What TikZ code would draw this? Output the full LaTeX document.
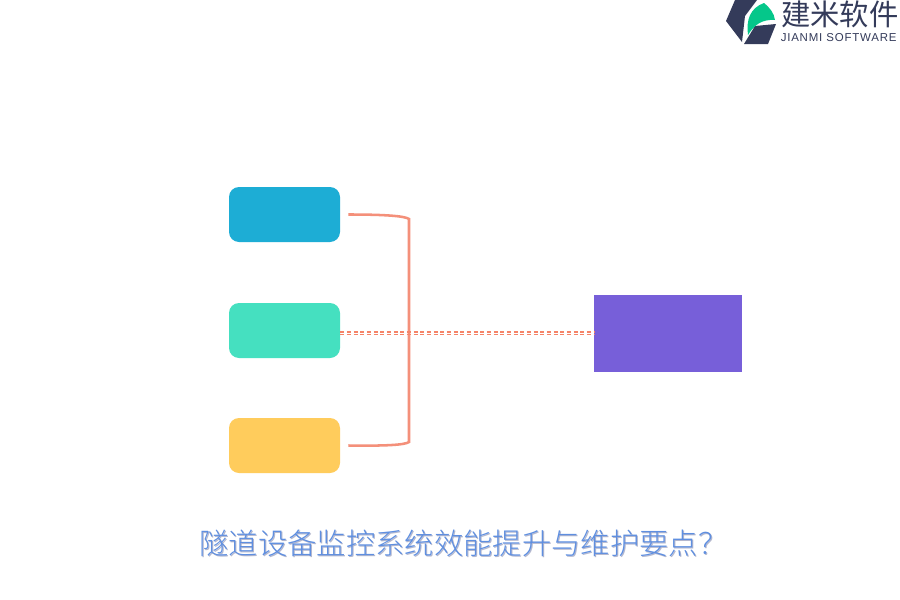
\documentclass[tikz,border=0pt]{standalone}
\usepackage{fontspec}
\newfontfamily\cjk{Noto Sans CJK SC Light}
\newfontfamily\cjkreg{Noto Sans CJK SC}
\setmainfont{Liberation Sans}
\newfontfamily\logolatin[LetterSpace=7]{Liberation Sans}
\definecolor{cblue}{HTML}{1DADD5}
\definecolor{cteal}{HTML}{45E0C0}
\definecolor{cyellow}{HTML}{FFCC5C}
\definecolor{cpurple}{HTML}{775FD9}
\definecolor{cline}{HTML}{F4907A}
\definecolor{cdash}{HTML}{F58468}
\definecolor{ctitle}{HTML}{5F8FE0}
\definecolor{cshadow}{HTML}{B4B8CE}
\definecolor{cdark}{HTML}{343B5A}
\definecolor{cgreen}{HTML}{05C78A}
\tikzset{
  x=0.75pt,y=-0.75pt,
  roundbox/.style={draw=none,minimum width=83.25pt,minimum height=41.25pt,rounded corners=7.5pt,inner sep=0pt},
  bracket/.style={draw=cline,line width=1.9pt},
  dashrow/.style={draw=cdash,line width=0.8pt,dash pattern=on 3pt off 2pt},
  logocn/.style={text=cdark,font=\cjkreg\fontsize{22pt}{24pt}\selectfont,inner sep=0pt},
  logoen/.style={text=cdark,font=\logolatin\fontsize{8.6pt}{10pt}\selectfont,inner sep=0pt},
  titletext/.style={font=\cjk\fontsize{22pt}{26pt}\selectfont,inner sep=0pt}
}
\begin{document}
\begin{tikzpicture}
\useasboundingbox (0,0) rectangle (900,600);
\fill[white] (0,0) rectangle (900,600);
\node[roundbox,fill=cblue] (a) at (284.5,214.5) {};
\node[roundbox,fill=cteal] (b) at (284.5,330.5) {};
\node[roundbox,fill=cyellow] (c) at (284.5,445.5) {};
\node[draw=none,fill=cpurple,minimum width=111pt,minimum height=57.75pt,inner sep=0pt] (d) at (668,333.5) {};
\coordinate (as) at ([xshift=6pt]a.east);
\coordinate (cs) at ([xshift=6pt]c.east);
\coordinate (ao) at (409,219);
\coordinate (co) at (409,442);
\draw[bracket] (as) .. controls (385,214.5) and (405,216) .. (ao) -- (co) .. controls (405,445) and (385,446) .. (cs);
\draw[dashrow] ([yshift=1.125pt]b.east |- d.west) -- ([yshift=1.125pt]d.west);
\draw[dashrow] ([yshift=-0.75pt]b.east |- d.west) -- ([yshift=-0.75pt]d.west);
% logo
\fill[cdark] (735,0) -- (757,0) -- (745,16) -- (742,42) -- (726,21) -- cycle;
\fill[cdark] (755,26) -- (776,24) -- (768,44) -- (744,44) -- cycle;
\fill[cgreen] (748,35) .. controls (746,20) and (750,8) .. (764,3) .. controls (770,8) and (774,13) .. (775,20) .. controls (762,19) and (754,25) .. (748,35) -- cycle;
\node[logocn,anchor=west] (lc) at (781,14) {建米软件};
\node[logoen,anchor=west] (le) at (780.5,38) {JIANMI SOFTWARE};
% title
\node[titletext,text=cshadow,anchor=center] (ts) at (464.5,544.5) {隧道设备监控系统效能提升与维护要点？};
\node[titletext,text=ctitle,anchor=center] (t) at (463.5,543.5) {隧道设备监控系统效能提升与维护要点？};
\end{tikzpicture}
\end{document}
